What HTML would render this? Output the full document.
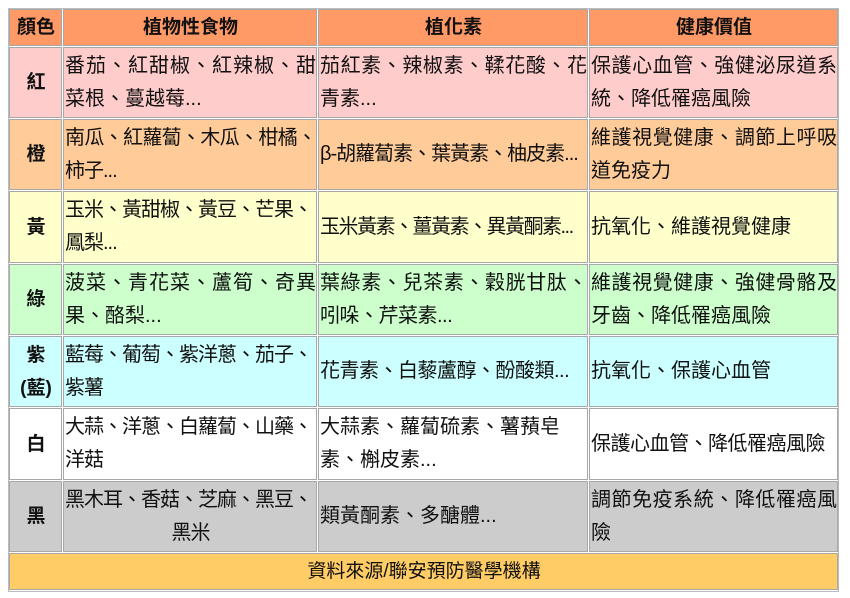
<!DOCTYPE html>
<html><head><meta charset="utf-8"><style>
body{margin:0;width:850px;height:598px;background:#fff;font-family:"Liberation Sans","Noto Sans CJK TC",sans-serif;color:#111;}
.c{position:absolute;box-sizing:border-box;border:1px solid #a8a8a8;font-size:20px;line-height:33px;white-space:nowrap;overflow:hidden;display:flex;flex-direction:column;justify-content:center;padding-left:1px;}
.h{font-weight:bold;text-align:center;align-items:center;background:#FF9966;font-size:19px;}
.k{font-weight:bold;align-items:center;text-align:center;font-size:19px;}
.j span{display:block;text-align:justify;text-align-last:justify;}
</style></head><body>
<div style="position:absolute;left:8px;top:8px;width:831px;height:584px;border:1px solid #bbb;box-sizing:border-box"></div>
<div class="c h" style="left:9px;top:9px;width:53px;height:37px">顏色</div>
<div class="c h" style="left:63px;top:9px;width:254px;height:37px">植物性食物</div>
<div class="c h" style="left:318px;top:9px;width:270px;height:37px">植化素</div>
<div class="c h" style="left:589px;top:9px;width:249px;height:37px">健康價值</div>
<div class="c k" style="left:9px;top:47px;width:53px;height:71px;background:#FFCCCC">紅</div>
<div class="c j" style="left:63px;top:47px;width:254px;height:71px;background:#FFCCCC"><span>番茄、紅甜椒、紅辣椒、甜</span><span style="text-align-last:left">菜根、蔓越莓...</span></div>
<div class="c j" style="left:318px;top:47px;width:270px;height:71px;background:#FFCCCC"><span>茄紅素、辣椒素、鞣花酸、花</span><span style="text-align-last:left">青素...</span></div>
<div class="c j" style="left:589px;top:47px;width:249px;height:71px;background:#FFCCCC"><span>保護心血管、強健泌尿道系</span><span style="text-align-last:left">統、降低罹癌風險</span></div>
<div class="c k" style="left:9px;top:119px;width:53px;height:71px;background:#FFCC99">橙</div>
<div class="c j" style="left:63px;top:119px;width:254px;height:71px;background:#FFCC99;letter-spacing:-1px"><span>南瓜、紅蘿蔔、木瓜、柑橘、</span><span style="text-align-last:left">柿子...</span></div>
<div class="c" style="left:318px;top:119px;width:270px;height:71px;background:#FFCC99;letter-spacing:-1px">β-胡蘿蔔素、葉黃素、柚皮素...</div>
<div class="c j" style="left:589px;top:119px;width:249px;height:71px;background:#FFCC99"><span>維護視覺健康、調節上呼吸</span><span style="text-align-last:left">道免疫力</span></div>
<div class="c k" style="left:9px;top:191px;width:53px;height:72px;background:#FFFFCC">黃</div>
<div class="c" style="left:63px;top:191px;width:254px;height:72px;background:#FFFFCC;letter-spacing:-1px">玉米、黃甜椒、黃豆、芒果、<br>鳳梨...</div>
<div class="c" style="left:318px;top:191px;width:270px;height:72px;background:#FFFFCC;letter-spacing:-1.5px">玉米黃素、薑黃素、異黃酮素...</div>
<div class="c" style="left:589px;top:191px;width:249px;height:72px;background:#FFFFCC">抗氧化、維護視覺健康</div>
<div class="c k" style="left:9px;top:264px;width:53px;height:71px;background:#CCFFCC">綠</div>
<div class="c j" style="left:63px;top:264px;width:254px;height:71px;background:#CCFFCC"><span>菠菜、青花菜、蘆筍、奇異</span><span style="text-align-last:left">果、酪梨...</span></div>
<div class="c j" style="left:318px;top:264px;width:270px;height:71px;background:#CCFFCC;letter-spacing:-0.5px"><span>葉綠素、兒茶素、穀胱甘肽、</span><span style="text-align-last:left">吲哚、芹菜素...</span></div>
<div class="c j" style="left:589px;top:264px;width:249px;height:71px;background:#CCFFCC"><span>維護視覺健康、強健骨骼及</span><span style="text-align-last:left">牙齒、降低罹癌風險</span></div>
<div class="c k" style="left:9px;top:336px;width:53px;height:71px;background:#CCFFFF">紫<br>(藍)</div>
<div class="c" style="left:63px;top:336px;width:254px;height:71px;background:#CCFFFF;letter-spacing:-1px">藍莓、葡萄、紫洋蔥、茄子、<br>紫薯</div>
<div class="c" style="left:318px;top:336px;width:270px;height:71px;background:#CCFFFF;letter-spacing:-0.5px">花青素、白藜蘆醇、酚酸類...</div>
<div class="c" style="left:589px;top:336px;width:249px;height:71px;background:#CCFFFF">抗氧化、保護心血管</div>
<div class="c k" style="left:9px;top:408px;width:53px;height:72px;background:#fff">白</div>
<div class="c" style="left:63px;top:408px;width:254px;height:72px;background:#fff;letter-spacing:-1px">大蒜、洋蔥、白蘿蔔、山藥、<br>洋菇</div>
<div class="c" style="left:318px;top:408px;width:270px;height:72px;background:#fff">大蒜素、蘿蔔硫素、薯蕷皂<br>素、槲皮素...</div>
<div class="c" style="left:589px;top:408px;width:249px;height:72px;background:#fff;letter-spacing:-0.5px">保護心血管、降低罹癌風險</div>
<div class="c k" style="left:9px;top:481px;width:53px;height:71px;background:#CCCCCC">黑</div>
<div class="c" style="left:63px;top:481px;width:254px;height:71px;background:#CCCCCC;letter-spacing:-1px">黑木耳、香菇、芝麻、黑豆、<br><span style="text-align:center;display:block">黑米</span></div>
<div class="c" style="left:318px;top:481px;width:270px;height:71px;background:#CCCCCC">類黃酮素、多醣體...</div>
<div class="c j" style="left:589px;top:481px;width:249px;height:71px;background:#CCCCCC"><span>調節免疫系統、降低罹癌風</span><span style="text-align-last:left">險</span></div>
<div class="c" style="left:9px;top:553px;width:829px;height:37px;background:#FFCC66;align-items:center;font-size:19px">資料來源/聯安預防醫學機構</div>
</body></html>
